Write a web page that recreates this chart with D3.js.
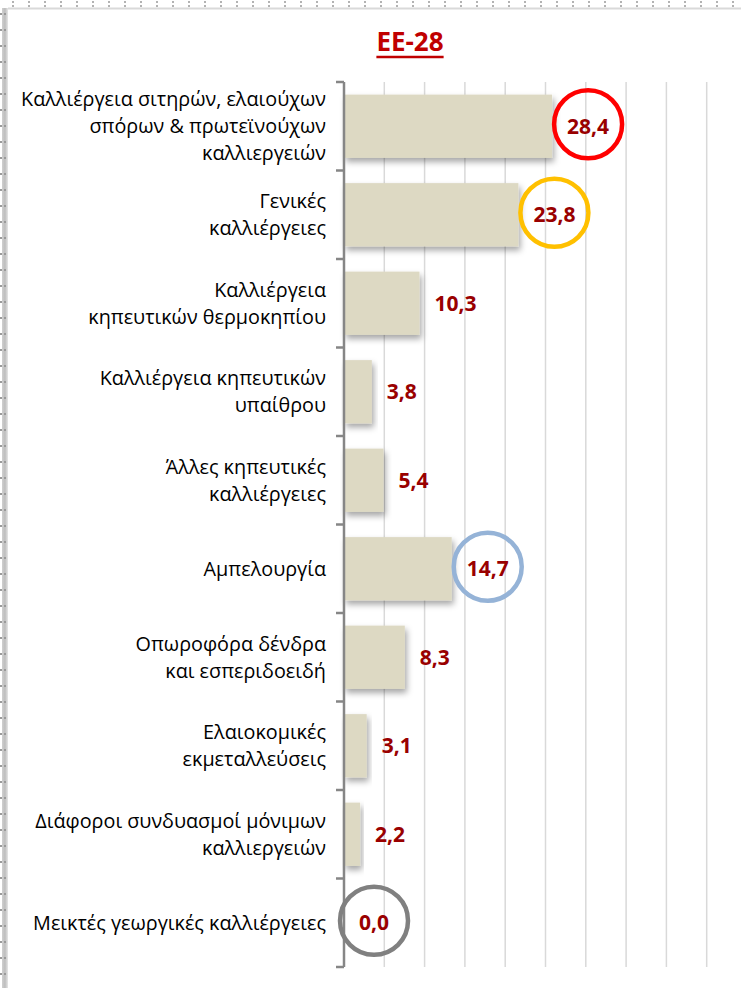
<!DOCTYPE html>
<html>
<head>
<meta charset="utf-8">
<script src="https://cdn.jsdelivr.net/npm/d3@7"></script>
<style>
body{margin:0;background:#fff;}
svg{display:block;}
</style>
</head>
<body>
<div id="chart"></div>
<script>
var w=741;
var h=988;

// data
var categories=[
  ["Καλλιέργεια σιτηρών, ελαιούχων","σπόρων & πρωτεϊνούχων","καλλιεργειών"],
  ["Γενικές","καλλιέργειες"],
  ["Καλλιέργεια","κηπευτικών θερμοκηπίου"],
  ["Καλλιέργεια κηπευτικών","υπαίθρου"],
  ["Άλλες κηπευτικές","καλλιέργειες"],
  ["Αμπελουργία"],
  ["Οπωροφόρα δένδρα","και εσπεριδοειδή"],
  ["Ελαιοκομικές","εκμεταλλεύσεις"],
  ["Διάφοροι συνδυασμοί μόνιμων","καλλιεργειών"],
  ["Μεικτές γεωργικές καλλιέργειες"]
];
var values=[28.4,23.8,10.3,3.8,5.4,14.7,8.3,3.1,2.2,0.0];
var circleColors=["#FF0000","#FFC000",null,null,null,"#95B3D7",null,null,null,"#808080"];
var gridValues=[0,5.5,11,16.5,22,27.5,33,38.5,44,49.5,55];
var title="ΕΕ-28";

var svg=d3.select("#chart")
  .append("svg")
  .attr("width",w)
  .attr("height",h);

var defs=svg.append("defs");
defs.append("filter")
  .attr("id","shadow")
  .attr("x","-10%").attr("y","-20%")
  .attr("width","130%").attr("height","160%")
  .append("feDropShadow")
  .attr("dx",2).attr("dy",4)
  .attr("stdDeviation",3)
  .attr("flood-color","#000")
  .attr("flood-opacity",0.35);
var grad=defs.append("linearGradient").attr("id","edge").attr("x1","0").attr("x2","1");
grad.append("stop").attr("offset","0").attr("stop-color","#d0d0d0");
grad.append("stop").attr("offset","0.5").attr("stop-color","#bdbdbd");
grad.append("stop").attr("offset","1").attr("stop-color","#e6e6e6");

// page frame (dotted edges + border)
svg.append("rect").attr("x",2).attr("y",8).attr("width",6).attr("height",h-8).attr("fill","url(#edge)");
svg.append("line").attr("x1",8).attr("x2",w).attr("y1",8.5).attr("y2",8.5)
  .style("stroke","#d9d9d9").style("stroke-width",2);
var dotX=d3.range(12,w,16);
[1,5].forEach(function(y){
  svg.selectAll(null).data(dotX).enter().append("rect")
    .attr("x",function(d){return d;}).attr("y",y)
    .attr("width",2).attr("height",2).attr("fill","#b3b3b3");
});
var dotY=d3.range(13,h,16);
[0,4].forEach(function(x){
  svg.selectAll(null).data(dotY).enter().append("rect")
    .attr("x",x).attr("y",function(d){return d;})
    .attr("width",2).attr("height",2).attr("fill","#9a9a9a");
});

// scales
var x=d3.scaleLinear().domain([0,55]).range([344,747]);
var y=d3.scaleBand().domain(d3.range(categories.length)).range([82,967]).paddingInner(0.285).paddingOuter(0.1425);
var band=d3.scaleBand().domain(d3.range(categories.length)).range([82,967]);

// gridlines
svg.selectAll("line.grid")
  .data(gridValues.slice(1))
  .enter()
  .append("line")
  .attr("class","grid")
  .attr("x1",function(d){return x(d);})
  .attr("x2",function(d){return x(d);})
  .attr("y1",82)
  .attr("y2",967)
  .style("stroke","#d9d9d9")
  .style("stroke-width",1.5);

// bars
svg.selectAll("rect.bar")
  .data(values)
  .enter()
  .append("rect")
  .attr("class","bar")
  .attr("x",x(0))
  .attr("y",function(d,i){return y(i);})
  .attr("width",function(d){return x(d)-x(0);})
  .attr("height",y.bandwidth())
  .attr("fill","#DDD9C3")
  .attr("filter","url(#shadow)");

// axis
svg.append("line")
  .attr("x1",x(0)).attr("x2",x(0))
  .attr("y1",82).attr("y2",967)
  .style("stroke","#868686").style("stroke-width",2.5);
svg.selectAll("line.tick")
  .data(d3.range(categories.length+1))
  .enter()
  .append("line")
  .attr("class","tick")
  .attr("x1",x(0)-8).attr("x2",x(0))
  .attr("y1",function(d){return d<categories.length?band(d):band(d-1)+band.bandwidth();})
  .attr("y2",function(d){return d<categories.length?band(d):band(d-1)+band.bandwidth();})
  .style("stroke","#868686").style("stroke-width",2.5);

// category labels
var lineH=27;
var catText=svg.selectAll("text.cat")
  .data(categories)
  .enter()
  .append("text")
  .attr("class","cat")
  .attr("text-anchor","end")
  .style("font-family","'Open Sans', sans-serif")
  .style("font-size","19.8px")
  .style("fill","#000");
catText.each(function(lines,i){
  var cy=band(i)+band.bandwidth()/2;
  var t=d3.select(this);
  lines.forEach(function(l,j){
    t.append("tspan")
      .attr("x",326)
      .attr("y",cy+(j-(lines.length-1)/2)*lineH)
      .attr("dy","0.36em")
      .text(l);
  });
});

// value labels
var valText=svg.selectAll("text.val")
  .data(values)
  .enter()
  .append("text")
  .attr("class","val")
  .attr("x",function(d){return x(d)+15;})
  .attr("y",function(d,i){return y(i)+y.bandwidth()/2;})
  .attr("dy","0.36em")
  .style("font-family","'Open Sans', sans-serif")
  .style("font-weight","bold")
  .style("font-size","21px")
  .style("fill","#990000")
  .text(function(d){return d.toFixed(1).replace(".",",");});

// highlight circles
valText.each(function(d,i){
  if(!circleColors[i]) return;
  var len=this.getComputedTextLength();
  svg.append("circle")
    .attr("cx",x(d)+15+len/2)
    .attr("cy",y(i)+y.bandwidth()/2-2)
    .attr("r",34)
    .attr("fill","none")
    .style("stroke",circleColors[i])
    .style("stroke-width",4.5);
});

// title
var t=svg.append("text")
  .attr("x",410)
  .attr("y",51)
  .attr("text-anchor","middle")
  .style("font-family","'Open Sans', sans-serif")
  .style("font-weight","bold")
  .style("font-size","26px")
  .style("fill","#C00000")
  .text(title);
var tl=t.node().getComputedTextLength();
svg.append("line")
  .attr("x1",410-tl/2).attr("x2",410+tl/2)
  .attr("y1",57).attr("y2",57)
  .style("stroke","#C00000").style("stroke-width",2.5);
</script>
</body>
</html>
